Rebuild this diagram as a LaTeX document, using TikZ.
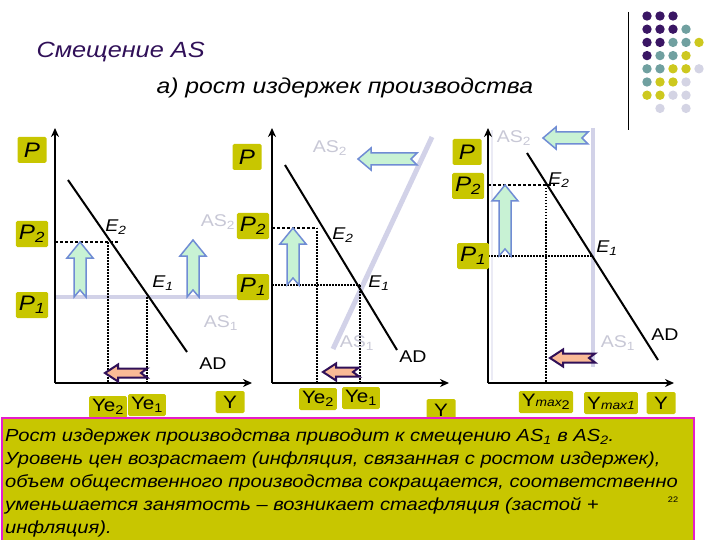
\documentclass[tikz,border=0pt]{standalone}
\usepackage{fontspec}
\setmainfont[FakeStretch=1.15]{Liberation Sans}
\usetikzlibrary{arrows.meta}
\definecolor{mustard}{RGB}{200,198,0}
\definecolor{lavline}{RGB}{210,210,232}
\definecolor{asgray}{RGB}{200,200,214}
\definecolor{mint}{RGB}{200,242,212}
\definecolor{arrblue}{RGB}{112,140,212}
\definecolor{peach}{RGB}{250,186,150}
\definecolor{darkplum}{RGB}{48,16,88}
\definecolor{dotpurple}{RGB}{58,22,100}
\definecolor{dotteal}{RGB}{112,160,160}
\definecolor{dotyellow}{RGB}{205,200,30}
\definecolor{dotlilac}{RGB}{212,212,228}
\definecolor{rimmagenta}{RGB}{230,30,200}
\tikzstyle{lbl}=[fill=mustard, rounded corners=1.5pt, inner xsep=3pt, inner ysep=2pt, minimum height=26pt, minimum width=29pt, font=\fontsize{21}{21}\selectfont\itshape]
\tikzstyle{qlbl}=[lbl, minimum height=22pt, font=\fontsize{18}{18}\selectfont]
\tikzstyle{plain}=[inner sep=1pt, font=\fontsize{17}{17}\selectfont]
\tikzstyle{elbl}=[plain, font=\fontsize{17}{17}\selectfont\itshape]
\tikzstyle{aslbl}=[plain, text=asgray]
\tikzstyle{axis}=[line width=2.5pt, -{Stealth[length=9pt,width=8pt]}]
\tikzstyle{curve}=[line width=2pt]
\tikzstyle{asline}=[line width=4pt, lavline]
\tikzstyle{guide}=[line width=1.2pt, dash pattern=on 1.5pt off 1.5pt]
\tikzstyle{pguide}=[line width=2pt, dash pattern=on 2pt off 1pt]
\tikzstyle{greenarr}=[fill=mint, draw=arrblue, line width=1.5pt]
\tikzstyle{peacharr}=[fill=peach, draw=darkplum, line width=2pt]
\newcommand{\sub}[1]{\textsubscript{#1}}
% block arrow pointing up: x, y of tail, y of tip
\newcommand{\shiftup}[3]{\draw[greenarr] ({#1-6},#2) -- (#1,{#2-7}) -- ({#1+6},#2) -- ({#1+6},{#3+16}) -- ({#1+13},{#3+16}) -- (#1,#3) -- ({#1-13},{#3+16}) -- ({#1-6},{#3+16}) -- cycle;}
% block arrow pointing left: style, y, x of tail, x of tip, half shaft, half head
\newcommand{\shiftleft}[6]{\draw[#1] (#3,{#2-#5}) -- ({#4+13},{#2-#5}) -- ({#4+13},{#2-#6}) -- (#4,#2) -- ({#4+13},{#2+#6}) -- ({#4+13},{#2+#5}) -- (#3,{#2+#5}) -- ({#3-6},#2) -- cycle;}

\begin{document}
\begin{tikzpicture}[x=1pt, y=-1pt]
    \useasboundingbox (0,0) rectangle (720,540);
    % decoration
    \draw[line width=1pt] (628,12) coordinate (decoTop) -- (628,130) coordinate (decoBot);
    \foreach \c/\r/\col in {0/0/dotpurple, 1/0/dotpurple, 2/0/dotpurple,
        0/1/dotpurple, 1/1/dotpurple, 2/1/dotpurple, 3/1/dotteal,
        0/2/dotpurple, 1/2/dotpurple, 2/2/dotteal, 3/2/dotteal, 4/2/dotyellow,
        0/3/dotpurple, 1/3/dotteal, 2/3/dotteal, 3/3/dotyellow,
        0/4/dotteal, 1/4/dotteal, 2/4/dotyellow, 3/4/dotyellow, 4/4/dotlilac,
        0/5/dotteal, 1/5/dotyellow, 2/5/dotyellow, 3/5/dotlilac,
        0/6/dotyellow, 1/6/dotyellow, 2/6/dotlilac, 3/6/dotlilac,
        1/7/dotlilac, 3/7/dotlilac}
        \fill[\col] ({647+13*\c},{16+13.2*\r}) circle (4.7);
    % titles
    \node[anchor=west, text=darkplum, font=\fontsize{22}{22}\selectfont\itshape] (title) at (33,52) {Смещение AS};
    \node[anchor=west, font=\fontsize{21.5}{21.5}\selectfont\itshape] (subtitle) at (153,88) {а) рост издержек производства};

    % panel a
    \coordinate (aO) at (55,383);
    \coordinate (aE2) at (108,242);
    \coordinate (aE1) at (147,297);
    \draw[asline] (aE1 -| aO) -- (238,297) coordinate (aASend);
    \draw[guide, dash pattern=on 3pt off 2pt] (aE2 -| aO) -- (118,242) coordinate (aP2end);
    \draw[guide] (aE2) -- (aE2 |- aO);
    \draw[guide] (aE1) -- (aE1 |- aO);
    \draw[axis] (aO) -- (55,128) coordinate (aYtop);
    \draw[axis] (aO) -- (252,383) coordinate (aXend);
    \draw[curve] (68,180) coordinate (aADs) -- (187,352) coordinate (aADe);
    \shiftup{80}{297}{242}
    \shiftup{193}{297}{240}
    \shiftleft{peacharr}{373}{147}{105}{4.5}{8.5}
    \node[lbl] (aP) at (32,150) {P};
    \node[lbl] (aP2) at (32,234) {P\sub{2}};
    \node[lbl] (aP1) at (32,305) {P\sub{1}};
    \node[elbl] (aE2l) at (116,227) {E\sub{2}};
    \node[elbl] (aE1l) at (163,283) {E\sub{1}};
    \node[plain] (aAD) at (213,364) {AD};
    \node[aslbl] (aAS2) at (218,222) {AS\sub{2}};
    \node[aslbl] (aAS1) at (221,323) {AS\sub{1}};
    \node[qlbl] (aYe2) at (108,407) {Ye\sub{2}};
    \node[qlbl] (aYe1) at (147,405) {Ye\sub{1}};
    \node[qlbl] (aY) at (230,402) {Y};

    % panel b
    \coordinate (bO) at (272,383);
    \coordinate (bE2) at (317,228);
    \coordinate (bE1) at (360,285);
    \draw[asline, line width=5pt] (333,349) coordinate (bASs) -- (432,137) coordinate (bASe);
    \draw[guide, dash pattern=on 3pt off 2pt] (bE2 -| bO) -- (bE2);
    \draw[pguide] (bE1 -| bO) -- (bE1);
    \draw[guide] (bE2) -- (bE2 |- bO);
    \draw[guide] (bE1) -- (bE1 |- bO);
    \draw[axis] (bO) -- (272,128) coordinate (bYtop);
    \draw[axis] (bO) -- (449,383) coordinate (bXend);
    \draw[curve] (285,165) coordinate (bADs) -- (397,350) coordinate (bADe);
    \shiftup{293}{285}{228}
    \shiftleft{greenarr}{159}{417}{358}{6}{11}
    \shiftleft{peacharr}{372}{359}{323}{4.5}{8.5}
    \node[lbl] (bP) at (247,157) {P};
    \node[lbl] (bP2) at (253,226) {P\sub{2}};
    \node[lbl] (bP1) at (253,287) {P\sub{1}};
    \node[elbl] (bE2l) at (343,235) {E\sub{2}};
    \node[elbl] (bE1l) at (379,283) {E\sub{1}};
    \node[plain] (bAD) at (413,357) {AD};
    \node[aslbl] (bAS2) at (330,148) {AS\sub{2}};
    \node[aslbl] (bAS1) at (357,343) {AS\sub{1}};
    \node[qlbl] (bYe2) at (318,399) {Ye\sub{2}};
    \node[qlbl] (bYe1) at (361,398) {Ye\sub{1}};
    \node[qlbl] (bY) at (441,410) {Y};

    % panel c
    \coordinate (cO) at (488,383);
    \coordinate (cE2) at (546,185);
    \coordinate (cE1) at (593,256);
    \draw[lavline!45, line width=2pt] (492,130) coordinate (cAS2s) -- (492,380) coordinate (cAS2e);
    \draw[asline] (593,128) coordinate (cASs) -- (593,367) coordinate (cASe);
    \draw[guide, dash pattern=on 3pt off 2pt] (cE2 -| cO) -- (555,185) coordinate (cP2end);
    \draw[pguide] (cE1 -| cO) -- (cE1);
    \draw[guide] (cE2) -- (cE2 |- cO);
    \draw[axis] (cO) -- (488,128) coordinate (cYtop);
    \draw[axis] (cO) -- (674,383) coordinate (cXend);
    \draw[curve] (527,153) coordinate (cADs) -- (658,360) coordinate (cADe);
    \shiftup{505}{256}{185}
    \shiftleft{greenarr}{138}{588}{543}{6}{11}
    \shiftleft{peacharr}{358}{595}{550}{4.5}{8.5}
    \node[lbl] (cP) at (467,152) {P};
    \node[lbl] (cP2) at (468,186) {P\sub{2}};
    \node[lbl] (cP1) at (473,256) {P\sub{1}};
    \node[elbl] (cE2l) at (559,180) {E\sub{2}};
    \node[elbl] (cE1l) at (607,248) {E\sub{1}};
    \node[plain] (cAD) at (665,335) {AD};
    \node[aslbl] (cAS2) at (514,138) {AS\sub{2}};
    \node[aslbl] (cAS1) at (618,343) {AS\sub{1}};
    \node[qlbl] (cYmax2) at (546,402) {Y{\itshape\fontsize{12}{12}\selectfont max}\sub{2}};
    \node[qlbl] (cYmax1) at (611,403) {Y{\itshape\fontsize{12}{12}\selectfont max1}};
    \node[qlbl] (cY) at (661,403) {Y};

    % summary box
    \node[draw=rimmagenta, fill=mustard, line width=2pt, anchor=north west, minimum width=692, minimum height=130,
          inner sep=0pt] (box) at (1,417) {};
    \node[anchor=north west, align=left, inner sep=0pt, font=\fontsize{17.5}{23}\selectfont\itshape] (summary) at (5,429)
        {Рост издержек производства приводит к смещению AS\sub{1} в AS\sub{2}.\\
         Уровень цен возрастает (инфляция, связанная с ростом издержек),\\
         объем общественного производства сокращается, соответственно\\
         уменьшается занятость – возникает стагфляция (застой +\\
         инфляция).};
    \node[font=\fontsize{8}{8}\selectfont] (pagenum) at (673,500) {22};
\end{tikzpicture}
\end{document}
